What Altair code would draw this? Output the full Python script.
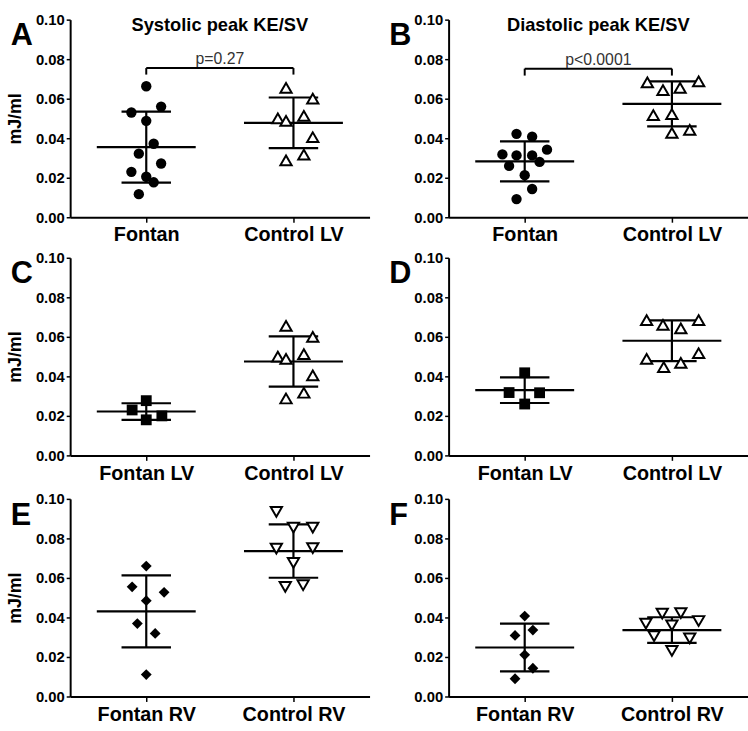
import altair as alt
import pandas as pd

FONT = "Liberation Sans"
Y_TICKS = [0.0, 0.02, 0.04, 0.06, 0.08, 0.10]
SLOT = 0.0505  # one jitter column, in category units

# ---------- Panel A: Systolic peak KE/SV ----------
a_cats = ["Fontan", "Control LV"]
a_f_vals = [0.0663, 0.056, 0.053, 0.0488, 0.0372, 0.0322, 0.0272, 0.023, 0.0205, 0.0177, 0.0117]
a_f_slot = [0, 2, -2, 0, 1, -1, 2, -2, 0, 1, -1]
a_c_vals = [0.0655, 0.060, 0.050, 0.0488, 0.0513, 0.0405, 0.0317, 0.0288]
a_c_slot = [-1, 2.6, -2.1, -1, 1.4, 2.6, 1.4, -1]
a_mean = [0.0355, 0.0478]
a_sd = [0.0180, 0.0128]

# ---------- Panel B: Diastolic peak KE/SV ----------
b_cats = ["Fontan", "Control LV"]
b_f_vals = [0.0422, 0.0408, 0.0318, 0.0313, 0.0313, 0.0342, 0.026, 0.028, 0.0213, 0.0143, 0.0092]
b_f_slot = [-1.1, 1, -3, -1.1, 1, 3, -2.1, 2, 0, 1, -1.1]
b_c_vals = [0.0683, 0.0688, 0.0643, 0.0655, 0.0517, 0.0522, 0.0427, 0.0442]
b_c_slot = [-3.3, 3.6, -1.2, 1.1, -2.5, 0, 0, 2.4]
b_mean = [0.0283, 0.0574]
b_sd = [0.0101, 0.0114]

# ---------- Panel C ----------
c_cats = ["Fontan LV", "Control LV"]
c_f_vals = [0.0277, 0.023, 0.020, 0.018]
c_f_slot = [0, -1.9, 2.1, 0]
c_c_vals = [0.0655, 0.060, 0.050, 0.0488, 0.0513, 0.0405, 0.0317, 0.0288]
c_c_slot = [-1, 2.6, -2.1, -1, 1.4, 2.6, 1.4, -1]
c_mean = [0.0222, 0.0475]
c_sd = [0.0042, 0.0127]

# ---------- Panel D ----------
d_cats = ["Fontan LV", "Control LV"]
d_f_vals = [0.0418, 0.0318, 0.0317, 0.026]
d_f_slot = [0, -2.1, 2, 0]
d_c_vals = [0.0685, 0.0685, 0.066, 0.0643, 0.0488, 0.0517, 0.0447, 0.0468]
d_c_slot = [-3.4, 3.6, -1.2, 1.2, -3.4, 3.6, -1.1, 1.2]
d_mean = [0.033, 0.058]
d_sd = [0.0065, 0.0103]

# ---------- Panel E ----------
e_cats = ["Fontan RV", "Control RV"]
e_f_vals = [0.066, 0.0555, 0.0527, 0.0485, 0.0369, 0.0319, 0.0111]
e_f_slot = [0, -1.9, 2.4, 0, -1.2, 1.2, 0]
e_c_vals = [0.0934, 0.0854, 0.0854, 0.0748, 0.0751, 0.0676, 0.0555, 0.0563]
e_c_slot = [-2.3, 0, 2.6, -2.3, 2.6, 0, -1.1, 1.3]
e_mean = [0.0431, 0.0736]
e_sd = [0.0182, 0.0135]

# ---------- Panel F ----------
f_cats = ["Fontan RV", "Control RV"]
f_f_vals = [0.0407, 0.0309, 0.0336, 0.0211, 0.0143, 0.009]
f_f_slot = [0, -1.3, 1.1, 0, 1.1, -1.3]
f_c_vals = [0.0369, 0.0419, 0.0422, 0.0382, 0.036, 0.0306, 0.0294, 0.0231]
f_c_slot = [-3.5, -1.3, 1.2, 3.6, 0, -2.4, 2.4, 0]
f_mean = [0.0248, 0.0336]
f_sd = [0.0121, 0.0065]

titles = {"A": "Systolic peak KE/SV", "B": "Diastolic peak KE/SV"}
brackets = {"A": ("p=0.27", 0.0755, 0.0722), "B": ("p<0.0001", 0.0752, 0.0717)}

W, H = 303, 200
XDOM = [-0.517, 1.517]


def panel(letter, cats, fv, fs, fshape, cv, cs, cshape, mean, sd, left, off=0):
    xscale = alt.Scale(domain=XDOM, nice=False, zero=False)
    yscale = alt.Scale(domain=[0, 0.1], nice=False, zero=False, range=[H + off, off])
    label_expr = f"datum.value == 0 ? '{cats[0]}' : '{cats[1]}'"
    xaxis = alt.Axis(values=[0, 1], labelExpr=label_expr, title=None, grid=False,
                     labelFontSize=20, labelPadding=3, tickSize=5)
    yaxis = alt.Axis(values=Y_TICKS, format=".2f", grid=False,
                     title="mJ/ml" if left else None,
                     labelFontSize=15, labelPadding=2, tickSize=4,
                     titleFontSize=18, titleX=-46, titleY=100 + off, titleAlign="center")

    def X(field):
        return alt.X(field, scale=xscale, axis=xaxis, title=None)

    def Y(field):
        return alt.Y(field, scale=yscale, axis=yaxis, title="mJ/ml" if left else None)

    fdf = pd.DataFrame({"v": fv, "slot": fs})
    fdf["x"] = 0 + fdf["slot"] * SLOT
    cdf = pd.DataFrame({"v": cv, "slot": cs})
    cdf["x"] = 1 + cdf["slot"] * SLOT

    sdf = pd.DataFrame({"g": [0, 1], "mean": mean, "sd": sd})
    sdf["lo"] = sdf["mean"] - sdf["sd"]
    sdf["hi"] = sdf["mean"] + sdf["sd"]
    sdf["ml"] = sdf["g"] - 0.336
    sdf["mr"] = sdf["g"] + 0.336
    sdf["cl"] = sdf["g"] - 0.168
    sdf["cr"] = sdf["g"] + 0.168

    rule = dict(strokeWidth=2.2, color="black")
    mean_line = alt.Chart(sdf).mark_rule(**rule).encode(x=X("ml:Q"), x2="mr:Q", y=Y("mean:Q"))
    vline = alt.Chart(sdf).mark_rule(**rule).encode(x=X("g:Q"), y=Y("lo:Q"), y2="hi:Q")
    cap_hi = alt.Chart(sdf).mark_rule(**rule).encode(x=X("cl:Q"), x2="cr:Q", y=Y("hi:Q"))
    cap_lo = alt.Chart(sdf).mark_rule(**rule).encode(x=X("cl:Q"), x2="cr:Q", y=Y("lo:Q"))

    def pts(df, shape, filled):
        if filled:
            mk = alt.Chart(df).mark_point(shape=shape, filled=True, color="black",
                                          size=110 if shape == "circle" else 120, opacity=1)
        else:
            mk = alt.Chart(df).mark_point(shape=shape, filled=False, fill="white",
                                          fillOpacity=1, stroke="black", strokeWidth=2,
                                          size=130, opacity=1)
        return mk.encode(x=X("x:Q"), y=Y("v:Q"))

    layers = [mean_line, vline, cap_hi, cap_lo,
              pts(fdf, fshape, True), pts(cdf, cshape, False)]

    if letter in titles:
        tdf = pd.DataFrame({"x": [0.5], "y": [0.0945], "t": [titles[letter]]})
        layers.append(alt.Chart(tdf).mark_text(font=FONT, fontSize=18.5, fontWeight="bold",
                                               color="black", baseline="alphabetic").encode(
            x=X("x:Q"), y=Y("y:Q"), text="t:N"))
    if letter in brackets:
        ptxt, ytop, ybot = brackets[letter]
        bdf = pd.DataFrame({"x0": [0], "x1": [1], "yt": [ytop], "yb": [ybot]})
        layers.append(alt.Chart(bdf).mark_rule(strokeWidth=2, color="black").encode(
            x=X("x0:Q"), x2="x1:Q", y=Y("yt:Q")))
        ends = pd.DataFrame({"x": [0, 1], "yt": [ytop, ytop], "yb": [ybot, ybot]})
        layers.append(alt.Chart(ends).mark_rule(strokeWidth=2, color="black").encode(
            x=X("x:Q"), y=Y("yt:Q"), y2="yb:Q"))
        pdf = pd.DataFrame({"x": [0.5], "y": [ytop + 0.0021], "t": [ptxt]})
        layers.append(alt.Chart(pdf).mark_text(font=FONT, fontSize=16, color="#333333",
                                               baseline="alphabetic").encode(
            x=X("x:Q"), y=Y("y:Q"), text="t:N"))

    ldf = pd.DataFrame({"t": [letter]})
    layers.append(alt.Chart(ldf).mark_text(font=FONT, fontSize=31, fontWeight="bold",
                                           color="black", align="left",
                                           baseline="alphabetic").encode(
        x=alt.value(-60), y=alt.value(26 + off), text="t:N"))

    return alt.layer(*layers).properties(width=W, height=H + off)


pA = panel("A", a_cats, a_f_vals, a_f_slot, "circle", a_c_vals, a_c_slot, "triangle-up", a_mean, a_sd, True)
pB = panel("B", b_cats, b_f_vals, b_f_slot, "circle", b_c_vals, b_c_slot, "triangle-up", b_mean, b_sd, False)
pC = panel("C", c_cats, c_f_vals, c_f_slot, "square", c_c_vals, c_c_slot, "triangle-up", c_mean, c_sd, True)
pD = panel("D", d_cats, d_f_vals, d_f_slot, "square", d_c_vals, d_c_slot, "triangle-up", d_mean, d_sd, False)
pE = panel("E", e_cats, e_f_vals, e_f_slot, "diamond", e_c_vals, e_c_slot, "triangle-down", e_mean, e_sd, True, off=3)
pF = panel("F", f_cats, f_f_vals, f_f_slot, "diamond", f_c_vals, f_c_slot, "triangle-down", f_mean, f_sd, False, off=3)

chart = alt.concat(pA, pB, pC, pD, pE, pF, columns=2,
                   spacing={"row": 41, "column": 80}, bounds="flush").properties(
    padding={"left": 7, "top": 8.5, "right": 0, "bottom": 0},
    background="white",
).configure_view(stroke=None).configure_axis(
    domainColor="black", domainWidth=2, tickColor="black", tickWidth=1.5,
    labelColor="black", labelFont=FONT, labelFontWeight="bold",
    titleFont=FONT, titleFontWeight="bold", titleColor="black",
)

chart.save("out.html", embed_options={"renderer": "svg", "actions": False})
